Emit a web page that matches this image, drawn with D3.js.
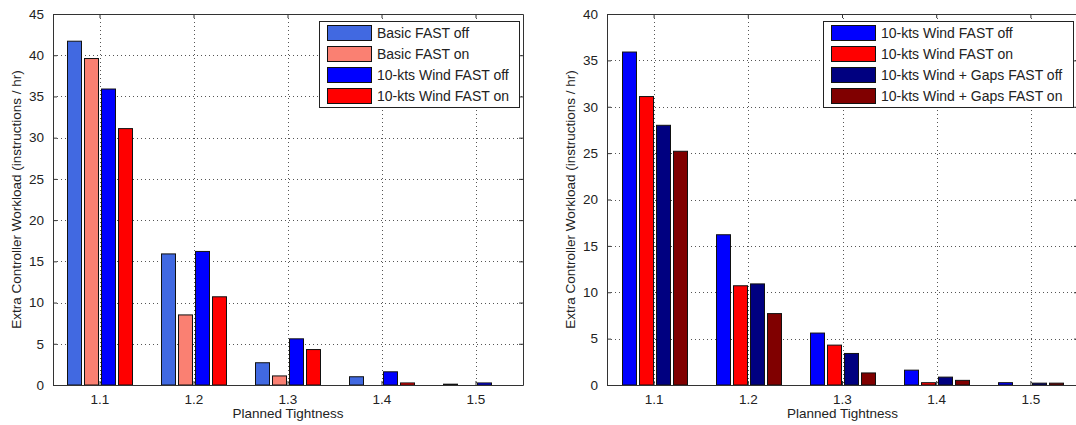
<!DOCTYPE html>
<html>
<head>
<meta charset="utf-8">
<script src="https://cdn.jsdelivr.net/npm/d3@7"></script>
<style>
  html, body { margin: 0; padding: 0; background: #fff; }
  svg { display: block; font-family: "Liberation Sans", Arial, sans-serif; }
</style>
</head>
<body>
<svg id="fig" width="1076" height="425"></svg>
<script>
// Planned tightness levels on the x axis
const categories = ["1.1", "1.2", "1.3", "1.4", "1.5"];

// Extra controller workload (instructions / hr) per scenario
const basicOff = [41.7, 15.9, 2.7, 1.0, 0.1];
const basicOn  = [39.6, 8.5, 1.1, 0, 0];
const windOff  = [35.9, 16.2, 5.6, 1.6, 0.25];
const windOn   = [31.1, 10.7, 4.3, 0.25, 0];
const gapsOff  = [28.0, 10.9, 3.4, 0.85, 0.2];
const gapsOn   = [25.2, 7.7, 1.3, 0.5, 0.2];

const leftNames  = ["Basic FAST off", "Basic FAST on", "10-kts Wind FAST off", "10-kts Wind FAST on"];
const rightNames = ["10-kts Wind FAST off", "10-kts Wind FAST on", "10-kts Wind + Gaps FAST off", "10-kts Wind + Gaps FAST on"];

const leftTicks  = d3.range(0, 46, 5);
const rightTicks = d3.range(0, 41, 5);

const yTitle = "Extra Controller Workload (instructions / hr)";
const xTitle = "Planned Tightness";

const svg = d3.select("#fig");

function drawPanel(opt) {
  const g = svg.append("g");
  const x = d3.scaleBand().domain(categories).range([opt.x0, opt.x1]).padding(0);
  const inner = d3.scaleBand().domain(opt.names).range([0, x.bandwidth()])
    .paddingInner(0.176).paddingOuter(0.853);
  const y = d3.scaleLinear().domain([0, opt.yMax]).range([opt.yBottom, opt.yTop]);

  // dotted grid
  const grid = g.append("g").attr("stroke", "#555").attr("stroke-width", 1)
    .attr("stroke-dasharray", "1,3").attr("fill", "none");
  opt.ticks.slice(1, -1).forEach(t => {
    grid.append("line").attr("x1", opt.x0).attr("x2", opt.x1)
      .attr("y1", Math.round(y(t)) + 0.5).attr("y2", Math.round(y(t)) + 0.5);
  });
  categories.forEach(c => {
    const cx = Math.round(x(c) + x.bandwidth() / 2) + 0.5;
    grid.append("line").attr("x1", cx).attr("x2", cx)
      .attr("y1", opt.yTop).attr("y2", opt.yBottom);
  });

  // bars
  opt.series.forEach((vals, si) => {
    const name = opt.names[si];
    g.append("g").selectAll("rect").data(vals).join("rect")
      .attr("x", (d, i) => Math.round(x(categories[i]) + inner(name)) + 0.5)
      .attr("width", Math.round(inner.bandwidth()))
      .attr("y", d => y(d))
      .attr("height", d => Math.max(0, opt.yBottom - y(d)))
      .attr("fill", opt.colors[si])
      .attr("stroke", "#111").attr("stroke-width", 1);
  });

  // axes frame with inward ticks on all sides
  const axisColor = "#333";
  const bottom = g.append("g").attr("transform", `translate(0,${opt.yBottom})`)
    .call(d3.axisBottom(x).tickSize(-4).tickPadding(9).tickSizeOuter(0));
  const top = g.append("g").attr("transform", `translate(0,${opt.yTop})`)
    .call(d3.axisTop(x).tickSize(-4).tickFormat("").tickSizeOuter(0));
  const left = g.append("g").attr("transform", `translate(${opt.x0},0)`)
    .call(d3.axisLeft(y).tickValues(opt.ticks).tickSize(-4).tickPadding(9).tickSizeOuter(0));
  const right = g.append("g").attr("transform", `translate(${opt.x1},0)`)
    .call(d3.axisRight(y).tickValues(opt.ticks).tickSize(-4).tickFormat("").tickSizeOuter(0));
  [bottom, top, left, right].forEach(a => {
    a.selectAll("path, line").attr("stroke", axisColor);
    a.selectAll("text").attr("fill", "#222").style("font-size", "13.5px")
      .style("font-family", '"Liberation Sans", Arial, sans-serif');
  });

  // axis titles
  g.append("text")
    .attr("transform", `translate(${opt.x0 - 32},${(opt.yTop + opt.yBottom) / 2}) rotate(-90)`)
    .attr("text-anchor", "middle").attr("fill", "#222").style("font-size", "13.5px")
    .text(yTitle);
  g.append("text")
    .attr("x", (opt.x0 + opt.x1) / 2).attr("y", 418)
    .attr("text-anchor", "middle").attr("fill", "#222").style("font-size", "13.5px")
    .text(xTitle);

  // legend
  const lg = g.append("g").attr("transform", `translate(${opt.legX},${opt.legY})`);
  lg.append("rect").attr("x", 0.5).attr("y", 0.5).attr("width", opt.legW).attr("height", 86)
    .attr("fill", "#fff").attr("stroke", "#222");
  opt.names.forEach((n, i) => {
    const row = lg.append("g").attr("transform", `translate(8,${12 + i * 21})`);
    row.append("rect").attr("x", 0.5).attr("y", -7.5).attr("width", 44).attr("height", 15)
      .attr("fill", opt.colors[i]).attr("stroke", "#111");
    row.append("text").attr("x", 50).attr("y", 5).attr("fill", "#222")
      .style("font-size", "14px").text(n);
  });
}

drawPanel({
  x0: 53, x1: 523, yTop: 14, yBottom: 385, yMax: 45, ticks: leftTicks,
  names: leftNames,
  series: [basicOff, basicOn, windOff, windOn],
  colors: ["#4169e1", "#fa8072", "#0000ff", "#ff0000"],
  legX: 319, legY: 21, legW: 200
});

drawPanel({
  x0: 607, x1: 1078, yTop: 14, yBottom: 385, yMax: 40, ticks: rightTicks,
  names: rightNames,
  series: [windOff, windOn, gapsOff, gapsOn],
  colors: ["#0000ff", "#ff0000", "#000080", "#800000"],
  legX: 823, legY: 21, legW: 250
});
</script>
</body>
</html>
